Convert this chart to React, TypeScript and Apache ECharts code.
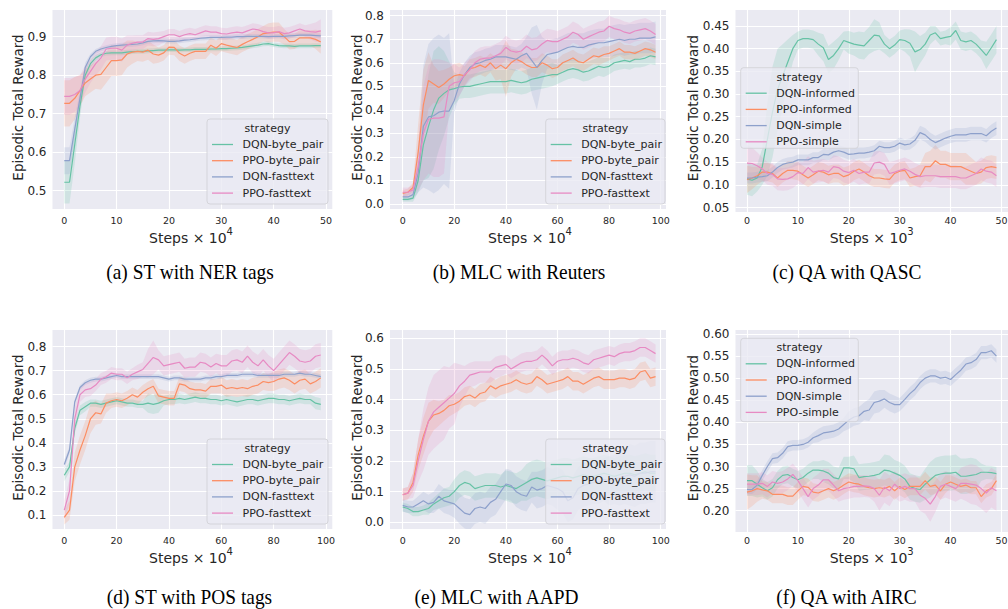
import React, { useEffect, useRef } from "react";
import * as echarts from "echarts";

// ---------- x positions ----------
const STEPS_50 = [
  0, 1, 2, 3, 4, 5, 6, 7, 8, 9, 10, 11, 12, 13, 14, 15, 16, 17, 18, 19,
  20, 21, 22, 23, 24, 25, 26, 27, 28, 29, 30, 31, 32, 33, 34, 35, 36, 37, 38, 39,
  40, 41, 42, 43, 44, 45, 46, 47, 48, 49,
];
const STEPS_100 = [
  0, 2, 4, 6, 8, 10, 12, 14, 16, 18, 20, 22, 24, 26, 28, 30, 32, 34, 36, 38,
  40, 42, 44, 46, 48, 50, 52, 54, 56, 58, 60, 62, 64, 66, 68, 70, 72, 74, 76, 78,
  80, 82, 84, 86, 88, 90, 92, 94, 96, 98,
];

// ---------- names / texts ----------
const NAMES_TXT = ["DQN-byte_pair", "PPO-byte_pair", "DQN-fasttext", "PPO-fasttext"];
const NAMES_QA = ["DQN-informed", "PPO-informed", "DQN-simple", "PPO-simple"];
const COLORS = ["#66c2a5", "#fc8d62", "#8da0cb", "#e78ac3"];
const BAND_COLORS = [
  "rgba(102,194,165,0.2)",
  "rgba(252,141,98,0.2)",
  "rgba(141,160,203,0.2)",
  "rgba(231,138,195,0.2)",
];
const CAPTIONS = [
  "(a) ST with NER tags",
  "(b) MLC with Reuters",
  "(c) QA with QASC",
  "(d) ST with POS tags",
  "(e) MLC with AAPD",
  "(f) QA with AIRC",
];
const X_POWERS = ["4", "4", "3", "4", "4", "3"];
const LEGEND_TITLE = "strategy";
const Y_TITLE = "Episodic Total Reward";
const X_TITLE = "Steps × 10";

// ---------- (a) ST with NER tags ----------
const A_DQN_BP = [
  0.522, 0.522, 0.62, 0.72, 0.8, 0.83, 0.845, 0.853, 0.857, 0.858,
  0.858, 0.858, 0.86, 0.861, 0.862, 0.862, 0.863, 0.864, 0.865, 0.865,
  0.866, 0.866, 0.865, 0.866, 0.866, 0.867, 0.867, 0.867, 0.868, 0.868,
  0.869, 0.869, 0.87, 0.871, 0.872, 0.874, 0.876, 0.878, 0.881, 0.882,
  0.879, 0.877, 0.876, 0.876, 0.875, 0.876, 0.876, 0.876, 0.877, 0.877,
];
const A_DQN_BP_S = [
  0.055, 0.055, 0.05, 0.03, 0.015, 0.01, 0.008, 0.006, 0.006, 0.006,
  0.006, 0.006, 0.006, 0.006, 0.006, 0.006, 0.006, 0.006, 0.006, 0.006,
  0.006, 0.006, 0.006, 0.006, 0.006, 0.006, 0.006, 0.006, 0.006, 0.006,
  0.006, 0.006, 0.006, 0.006, 0.006, 0.006, 0.006, 0.006, 0.006, 0.006,
  0.006, 0.006, 0.006, 0.006, 0.006, 0.006, 0.006, 0.006, 0.006, 0.006,
];
const A_PPO_BP = [
  0.727, 0.727, 0.74, 0.76, 0.78, 0.79, 0.8, 0.802, 0.82, 0.838,
  0.838, 0.84, 0.855, 0.86, 0.862, 0.86, 0.865, 0.855, 0.852, 0.858,
  0.873, 0.872, 0.857, 0.85, 0.857, 0.862, 0.862, 0.862, 0.878, 0.87,
  0.882, 0.878, 0.875, 0.872, 0.88, 0.887, 0.893, 0.9, 0.908, 0.91,
  0.912, 0.912, 0.9, 0.887, 0.888, 0.897, 0.897, 0.897, 0.893, 0.886,
];
const A_PPO_BP_S = [
  0.06, 0.06, 0.055, 0.04, 0.035, 0.035, 0.035, 0.04, 0.04, 0.04,
  0.04, 0.04, 0.035, 0.03, 0.025, 0.025, 0.025, 0.025, 0.02, 0.02,
  0.02, 0.02, 0.02, 0.02, 0.02, 0.02, 0.02, 0.02, 0.02, 0.02,
  0.02, 0.02, 0.02, 0.02, 0.02, 0.02, 0.02, 0.02, 0.02, 0.025,
  0.025, 0.025, 0.02, 0.02, 0.02, 0.02, 0.02, 0.02, 0.025, 0.03,
];
const A_DQN_FT = [
  0.578, 0.578, 0.66, 0.74, 0.82, 0.848, 0.862, 0.868, 0.872, 0.875,
  0.877, 0.878, 0.879, 0.88, 0.881, 0.884, 0.888, 0.889, 0.89, 0.889,
  0.888, 0.888, 0.889, 0.891, 0.892, 0.894, 0.896, 0.897, 0.898, 0.898,
  0.898, 0.899, 0.899, 0.9, 0.9, 0.901, 0.901, 0.901, 0.901, 0.9,
  0.901, 0.901, 0.901, 0.902, 0.903, 0.904, 0.904, 0.904, 0.903, 0.902,
];
const A_DQN_FT_S = [
  0.035, 0.035, 0.03, 0.02, 0.012, 0.008, 0.006, 0.006, 0.006, 0.006,
  0.006, 0.006, 0.006, 0.006, 0.006, 0.006, 0.006, 0.006, 0.006, 0.006,
  0.006, 0.006, 0.006, 0.006, 0.006, 0.006, 0.006, 0.006, 0.006, 0.006,
  0.006, 0.006, 0.006, 0.006, 0.006, 0.006, 0.006, 0.006, 0.006, 0.006,
  0.006, 0.006, 0.006, 0.006, 0.006, 0.006, 0.006, 0.006, 0.006, 0.006,
];
const A_PPO_FT = [
  0.745, 0.745, 0.75, 0.76, 0.79, 0.81, 0.83, 0.845, 0.868, 0.87,
  0.87, 0.865, 0.878, 0.883, 0.886, 0.886, 0.895, 0.893, 0.895, 0.9,
  0.905, 0.905, 0.9, 0.905, 0.908, 0.905, 0.91, 0.915, 0.912, 0.912,
  0.908, 0.907, 0.91, 0.912, 0.91, 0.915, 0.92, 0.918, 0.913, 0.91,
  0.91, 0.913, 0.908, 0.91, 0.915, 0.92, 0.915, 0.913, 0.912, 0.915,
];
const A_PPO_FT_S = [
  0.048, 0.048, 0.045, 0.04, 0.035, 0.03, 0.03, 0.03, 0.03, 0.03,
  0.03, 0.03, 0.025, 0.02, 0.018, 0.018, 0.018, 0.018, 0.018, 0.015,
  0.015, 0.015, 0.015, 0.015, 0.015, 0.015, 0.015, 0.015, 0.015, 0.015,
  0.015, 0.015, 0.015, 0.015, 0.015, 0.015, 0.015, 0.015, 0.015, 0.015,
  0.015, 0.015, 0.015, 0.015, 0.015, 0.015, 0.015, 0.02, 0.025, 0.03,
];

// ---------- (b) MLC with Reuters ----------
const B_DQN_BP = [
  0.02, 0.02, 0.025, 0.1, 0.25, 0.33, 0.4, 0.45, 0.47, 0.485,
  0.49, 0.497, 0.5, 0.5, 0.505, 0.51, 0.515, 0.52, 0.52, 0.52,
  0.52, 0.525, 0.52, 0.515, 0.52, 0.53, 0.535, 0.54, 0.545, 0.55,
  0.55, 0.56, 0.57, 0.575, 0.57, 0.56, 0.565, 0.575, 0.585, 0.58,
  0.585, 0.6, 0.605, 0.61, 0.605, 0.615, 0.615, 0.62, 0.63, 0.625,
];
const B_DQN_BP_S = [
  0.01, 0.01, 0.015, 0.05, 0.15, 0.22, 0.25, 0.22, 0.18, 0.12,
  0.07, 0.05, 0.05, 0.05, 0.05, 0.05, 0.05, 0.05, 0.05, 0.05,
  0.05, 0.05, 0.05, 0.05, 0.05, 0.05, 0.05, 0.05, 0.05, 0.05,
  0.04, 0.04, 0.04, 0.04, 0.04, 0.04, 0.04, 0.04, 0.04, 0.04,
  0.035, 0.035, 0.035, 0.035, 0.035, 0.035, 0.035, 0.035, 0.035, 0.035,
];
const B_PPO_BP = [
  0.045, 0.05, 0.07, 0.22, 0.42, 0.525, 0.51, 0.495, 0.51, 0.53,
  0.545, 0.55, 0.545, 0.575, 0.58, 0.59, 0.58, 0.6, 0.575, 0.59,
  0.575, 0.6, 0.615, 0.605, 0.59, 0.58, 0.58, 0.6, 0.59, 0.575,
  0.58, 0.6, 0.61, 0.62, 0.605, 0.6, 0.615, 0.63, 0.625, 0.635,
  0.64, 0.65, 0.66, 0.645, 0.645, 0.64, 0.65, 0.66, 0.655, 0.645,
];
const B_PPO_BP_S = [
  0.015, 0.015, 0.02, 0.12, 0.15, 0.12, 0.08, 0.07, 0.06, 0.05,
  0.05, 0.05, 0.04, 0.04, 0.04, 0.04, 0.04, 0.04, 0.05, 0.06,
  0.12, 0.06, 0.04, 0.04, 0.04, 0.04, 0.04, 0.04, 0.04, 0.04,
  0.035, 0.035, 0.035, 0.035, 0.035, 0.035, 0.035, 0.035, 0.035, 0.035,
  0.03, 0.03, 0.03, 0.03, 0.03, 0.03, 0.03, 0.03, 0.03, 0.03,
];
const B_DQN_FT = [
  0.03, 0.03, 0.04, 0.13, 0.33, 0.37, 0.375, 0.39, 0.395, 0.395,
  0.44, 0.51, 0.55, 0.58, 0.595, 0.6, 0.61, 0.615, 0.625, 0.625,
  0.625, 0.62, 0.615, 0.63, 0.64, 0.61, 0.58, 0.61, 0.635, 0.64,
  0.645, 0.655, 0.665, 0.67, 0.665, 0.665, 0.675, 0.68, 0.685, 0.685,
  0.69, 0.695, 0.7, 0.695, 0.7, 0.7, 0.705, 0.705, 0.705, 0.71,
];
const B_DQN_FT_S = [
  0.015, 0.015, 0.02, 0.08, 0.26, 0.31, 0.33, 0.33, 0.31, 0.33,
  0.05, 0.05, 0.05, 0.05, 0.05, 0.05, 0.05, 0.05, 0.05, 0.05,
  0.05, 0.05, 0.05, 0.05, 0.07, 0.14, 0.18, 0.1, 0.06, 0.06,
  0.06, 0.06, 0.06, 0.06, 0.06, 0.06, 0.06, 0.06, 0.06, 0.06,
  0.065, 0.065, 0.065, 0.065, 0.065, 0.065, 0.065, 0.065, 0.065, 0.065,
];
const B_PPO_FT = [
  0.05, 0.05, 0.06, 0.16, 0.3, 0.36, 0.365, 0.365, 0.37, 0.5,
  0.515, 0.52, 0.55, 0.57, 0.6, 0.615, 0.62, 0.62, 0.63, 0.64,
  0.665, 0.65, 0.645, 0.65, 0.67, 0.655, 0.66, 0.68, 0.695, 0.69,
  0.69, 0.7, 0.71, 0.73, 0.72, 0.7, 0.71, 0.72, 0.73, 0.735,
  0.755, 0.745, 0.74, 0.73, 0.725, 0.735, 0.74, 0.745, 0.735, 0.72,
];
const B_PPO_FT_S = [
  0.02, 0.02, 0.02, 0.1, 0.2, 0.23, 0.25, 0.25, 0.24, 0.1,
  0.08, 0.06, 0.05, 0.05, 0.05, 0.05, 0.05, 0.05, 0.05, 0.05,
  0.05, 0.05, 0.05, 0.05, 0.05, 0.05, 0.05, 0.05, 0.05, 0.05,
  0.045, 0.045, 0.045, 0.045, 0.045, 0.045, 0.045, 0.045, 0.045, 0.045,
  0.045, 0.045, 0.045, 0.045, 0.045, 0.045, 0.045, 0.045, 0.045, 0.045,
];

// ---------- (c) QA with QASC ----------
const C_DQN_INF = [
  0.113, 0.11, 0.115, 0.14, 0.2, 0.26, 0.31, 0.34, 0.37, 0.4,
  0.418, 0.422, 0.422, 0.42, 0.41, 0.402, 0.376, 0.385, 0.4, 0.418,
  0.414, 0.41, 0.408, 0.406, 0.418, 0.43, 0.428, 0.41, 0.4, 0.408,
  0.42, 0.418, 0.412, 0.393, 0.398, 0.41, 0.43, 0.435, 0.422, 0.425,
  0.427, 0.44, 0.418, 0.415, 0.418, 0.41, 0.398, 0.385, 0.402, 0.42,
];
const C_DQN_INF_S = [
  0.035, 0.035, 0.03, 0.04, 0.08, 0.1, 0.09, 0.07, 0.05, 0.03,
  0.02, 0.02, 0.02, 0.02, 0.025, 0.03, 0.03, 0.03, 0.025, 0.02,
  0.025, 0.025, 0.03, 0.03, 0.03, 0.035, 0.03, 0.02, 0.02, 0.02,
  0.02, 0.025, 0.03, 0.045, 0.03, 0.025, 0.02, 0.015, 0.015, 0.015,
  0.02, 0.02, 0.02, 0.02, 0.02, 0.02, 0.02, 0.03, 0.03, 0.03,
];
const C_PPO_INF = [
  0.112, 0.115, 0.12, 0.128, 0.128, 0.125, 0.115, 0.125, 0.132, 0.132,
  0.13, 0.122, 0.115, 0.122, 0.13, 0.128, 0.122, 0.125, 0.125, 0.118,
  0.122, 0.13, 0.135, 0.128, 0.12, 0.115, 0.115, 0.113, 0.112, 0.125,
  0.13, 0.132, 0.115, 0.118, 0.12, 0.14, 0.14, 0.153, 0.145, 0.145,
  0.14, 0.14, 0.14, 0.135, 0.13, 0.125, 0.128, 0.138, 0.14, 0.138,
];
const C_PPO_INF_S = [
  0.03, 0.025, 0.02, 0.02, 0.02, 0.02, 0.02, 0.02, 0.02, 0.02,
  0.02, 0.02, 0.02, 0.02, 0.02, 0.02, 0.02, 0.02, 0.02, 0.02,
  0.02, 0.02, 0.02, 0.02, 0.02, 0.02, 0.02, 0.02, 0.02, 0.02,
  0.02, 0.02, 0.02, 0.02, 0.025, 0.03, 0.035, 0.035, 0.03, 0.03,
  0.03, 0.03, 0.03, 0.035, 0.03, 0.025, 0.025, 0.025, 0.025, 0.025,
];
const C_DQN_SIM = [
  0.115, 0.115, 0.117, 0.118, 0.12, 0.128, 0.138, 0.145, 0.148, 0.15,
  0.155, 0.155, 0.155, 0.16, 0.16, 0.167, 0.166, 0.172, 0.175, 0.172,
  0.167, 0.168, 0.17, 0.17, 0.172, 0.175, 0.185, 0.182, 0.182, 0.185,
  0.192, 0.188, 0.19, 0.198, 0.215, 0.21, 0.2, 0.193, 0.198, 0.203,
  0.207, 0.21, 0.21, 0.21, 0.213, 0.213, 0.213, 0.208, 0.218, 0.225,
];
const C_DQN_SIM_S = [
  0.012, 0.012, 0.012, 0.012, 0.012, 0.012, 0.012, 0.012, 0.012, 0.012,
  0.012, 0.012, 0.012, 0.012, 0.012, 0.012, 0.012, 0.012, 0.012, 0.012,
  0.012, 0.012, 0.012, 0.012, 0.012, 0.012, 0.012, 0.012, 0.012, 0.012,
  0.012, 0.012, 0.012, 0.012, 0.015, 0.015, 0.015, 0.015, 0.015, 0.015,
  0.015, 0.015, 0.015, 0.015, 0.015, 0.015, 0.015, 0.015, 0.015, 0.015,
];
const C_PPO_SIM = [
  0.148, 0.147, 0.142, 0.135, 0.125, 0.123, 0.113, 0.112, 0.113, 0.118,
  0.127, 0.125, 0.138, 0.128, 0.13, 0.132, 0.128, 0.14, 0.138, 0.13,
  0.127, 0.132, 0.125, 0.128, 0.128, 0.148, 0.15, 0.145, 0.125, 0.128,
  0.132, 0.135, 0.13, 0.123, 0.118, 0.12, 0.12, 0.12, 0.118, 0.118,
  0.118, 0.118, 0.115, 0.115, 0.12, 0.125, 0.135, 0.13, 0.128, 0.12,
];
const C_PPO_SIM_S = [
  0.04, 0.035, 0.03, 0.025, 0.025, 0.025, 0.025, 0.025, 0.025, 0.025,
  0.025, 0.025, 0.025, 0.025, 0.025, 0.025, 0.025, 0.025, 0.025, 0.025,
  0.025, 0.025, 0.025, 0.025, 0.025, 0.025, 0.025, 0.025, 0.025, 0.025,
  0.025, 0.025, 0.025, 0.025, 0.025, 0.025, 0.025, 0.025, 0.025, 0.025,
  0.025, 0.025, 0.025, 0.025, 0.025, 0.025, 0.025, 0.025, 0.025, 0.025,
];

// ---------- (d) ST with POS tags ----------
const D_DQN_BP = [
  0.265, 0.3, 0.46, 0.535, 0.55, 0.565, 0.565, 0.56, 0.565, 0.57,
  0.575, 0.57, 0.565, 0.565, 0.56, 0.56, 0.565, 0.56, 0.565, 0.575,
  0.58, 0.58, 0.585, 0.58, 0.585, 0.59, 0.585, 0.585, 0.58, 0.58,
  0.575, 0.58, 0.575, 0.57, 0.575, 0.58, 0.58, 0.575, 0.58, 0.585,
  0.585, 0.58, 0.58, 0.575, 0.58, 0.585, 0.58, 0.58, 0.565, 0.56,
];
const D_DQN_BP_S = [
  0.025, 0.02, 0.02, 0.02, 0.02, 0.015, 0.015, 0.015, 0.015, 0.015,
  0.015, 0.015, 0.015, 0.015, 0.015, 0.015, 0.04, 0.04, 0.04, 0.02,
  0.02, 0.02, 0.02, 0.02, 0.02, 0.02, 0.02, 0.02, 0.02, 0.02,
  0.02, 0.02, 0.02, 0.02, 0.02, 0.02, 0.02, 0.02, 0.02, 0.02,
  0.02, 0.02, 0.02, 0.02, 0.02, 0.02, 0.02, 0.02, 0.025, 0.025,
];
const D_PPO_BP = [
  0.09, 0.12, 0.3, 0.37, 0.43, 0.5, 0.525, 0.52, 0.565, 0.575,
  0.58, 0.575, 0.585, 0.6, 0.59, 0.61, 0.625, 0.635, 0.595, 0.59,
  0.585, 0.585, 0.645, 0.64, 0.625, 0.62, 0.62, 0.615, 0.635, 0.635,
  0.64, 0.625, 0.63, 0.625, 0.63, 0.625, 0.635, 0.64, 0.655, 0.65,
  0.655, 0.665, 0.67, 0.66, 0.645, 0.66, 0.665, 0.645, 0.655, 0.67,
];
const D_PPO_BP_S = [
  0.03, 0.04, 0.06, 0.06, 0.06, 0.06, 0.05, 0.04, 0.04, 0.03,
  0.03, 0.03, 0.03, 0.03, 0.03, 0.03, 0.03, 0.03, 0.03, 0.03,
  0.03, 0.03, 0.03, 0.03, 0.03, 0.03, 0.03, 0.03, 0.03, 0.03,
  0.035, 0.035, 0.035, 0.035, 0.035, 0.035, 0.035, 0.035, 0.035, 0.035,
  0.04, 0.04, 0.04, 0.04, 0.04, 0.04, 0.04, 0.04, 0.04, 0.04,
];
const D_DQN_FT = [
  0.31, 0.37, 0.57, 0.63, 0.65, 0.66, 0.665, 0.665, 0.67, 0.675,
  0.68, 0.675, 0.675, 0.675, 0.675, 0.675, 0.675, 0.675, 0.675, 0.67,
  0.665, 0.67, 0.67, 0.665, 0.665, 0.665, 0.665, 0.67, 0.67, 0.675,
  0.675, 0.68, 0.68, 0.68, 0.685, 0.685, 0.685, 0.68, 0.68, 0.68,
  0.68, 0.68, 0.685, 0.685, 0.685, 0.69, 0.685, 0.685, 0.68, 0.675,
];
const D_DQN_FT_S = [
  0.02, 0.015, 0.01, 0.01, 0.01, 0.01, 0.01, 0.01, 0.01, 0.01,
  0.01, 0.01, 0.01, 0.01, 0.01, 0.01, 0.01, 0.01, 0.01, 0.01,
  0.01, 0.01, 0.01, 0.01, 0.01, 0.01, 0.01, 0.01, 0.01, 0.01,
  0.01, 0.01, 0.01, 0.01, 0.01, 0.01, 0.01, 0.01, 0.01, 0.01,
  0.01, 0.01, 0.01, 0.01, 0.01, 0.01, 0.01, 0.01, 0.01, 0.01,
];
const D_PPO_FT = [
  0.12, 0.2, 0.5, 0.6, 0.62, 0.625, 0.64, 0.665, 0.675, 0.69,
  0.685, 0.685, 0.67, 0.685, 0.695, 0.705, 0.73, 0.755, 0.745, 0.72,
  0.725, 0.73, 0.735, 0.71, 0.715, 0.715, 0.735, 0.73, 0.715, 0.73,
  0.72, 0.72, 0.74, 0.745, 0.735, 0.76, 0.735, 0.72, 0.745, 0.72,
  0.7, 0.725, 0.75, 0.775, 0.76, 0.74, 0.735, 0.74, 0.76, 0.765,
];
const D_PPO_FT_S = [
  0.04, 0.05, 0.05, 0.03, 0.03, 0.03, 0.025, 0.025, 0.025, 0.025,
  0.025, 0.025, 0.025, 0.025, 0.03, 0.03, 0.06, 0.07, 0.04, 0.04,
  0.04, 0.04, 0.04, 0.04, 0.04, 0.04, 0.04, 0.04, 0.04, 0.04,
  0.045, 0.045, 0.045, 0.045, 0.045, 0.045, 0.045, 0.045, 0.045, 0.045,
  0.05, 0.05, 0.05, 0.05, 0.05, 0.05, 0.05, 0.05, 0.05, 0.05,
];

// ---------- (e) MLC with AAPD ----------
const E_DQN_BP = [
  0.05, 0.045, 0.035, 0.035, 0.04, 0.045, 0.06, 0.07, 0.08, 0.085,
  0.1, 0.12, 0.13, 0.125, 0.11, 0.115, 0.12, 0.12, 0.12, 0.115,
  0.12, 0.115, 0.11, 0.12, 0.13, 0.14, 0.145, 0.14, 0.135, 0.14,
  0.145, 0.15, 0.15, 0.145, 0.15, 0.155, 0.15, 0.15, 0.155, 0.16,
  0.155, 0.15, 0.155, 0.16, 0.16, 0.155, 0.16, 0.165, 0.16, 0.16,
];
const E_DQN_BP_S = [
  0.015, 0.015, 0.015, 0.015, 0.015, 0.02, 0.02, 0.025, 0.03, 0.03,
  0.04, 0.04, 0.04, 0.04, 0.04, 0.04, 0.04, 0.04, 0.04, 0.04,
  0.05, 0.05, 0.05, 0.05, 0.06, 0.06, 0.06, 0.06, 0.06, 0.06,
  0.06, 0.06, 0.06, 0.06, 0.06, 0.06, 0.06, 0.06, 0.06, 0.06,
  0.06, 0.06, 0.06, 0.06, 0.06, 0.06, 0.06, 0.06, 0.06, 0.06,
];
const E_PPO_BP = [
  0.09, 0.095, 0.13, 0.22, 0.28, 0.33, 0.35, 0.355, 0.365, 0.38,
  0.385, 0.395, 0.41, 0.415, 0.405, 0.42, 0.425, 0.445, 0.435, 0.445,
  0.45, 0.455, 0.465, 0.455, 0.45, 0.455, 0.475, 0.465, 0.45, 0.455,
  0.46, 0.465, 0.475, 0.46, 0.46, 0.45, 0.46, 0.47, 0.475, 0.465,
  0.465, 0.465, 0.47, 0.47, 0.465, 0.47, 0.49, 0.495, 0.47, 0.475,
];
const E_PPO_BP_S = [
  0.02, 0.02, 0.03, 0.05, 0.06, 0.06, 0.05, 0.04, 0.035, 0.035,
  0.03, 0.03, 0.03, 0.03, 0.03, 0.03, 0.03, 0.03, 0.03, 0.03,
  0.03, 0.03, 0.03, 0.03, 0.03, 0.03, 0.03, 0.03, 0.03, 0.03,
  0.03, 0.03, 0.03, 0.03, 0.03, 0.03, 0.03, 0.03, 0.03, 0.03,
  0.03, 0.03, 0.03, 0.03, 0.03, 0.03, 0.03, 0.03, 0.03, 0.03,
];
const E_DQN_FT = [
  0.055, 0.05, 0.05, 0.06, 0.07, 0.06, 0.065, 0.085, 0.07, 0.065,
  0.06, 0.045, 0.03, 0.025, 0.045, 0.05, 0.045, 0.065, 0.075, 0.1,
  0.125, 0.12, 0.1, 0.09, 0.085, 0.115, 0.105, 0.11, 0.12, 0.115,
  0.11, 0.1, 0.07, 0.08, 0.11, 0.12, 0.125, 0.13, 0.13, 0.14,
  0.135, 0.14, 0.145, 0.15, 0.155, 0.15, 0.16, 0.16, 0.165, 0.165,
];
const E_DQN_FT_S = [
  0.02, 0.02, 0.02, 0.025, 0.03, 0.03, 0.035, 0.04, 0.04, 0.04,
  0.045, 0.05, 0.05, 0.05, 0.05, 0.05, 0.05, 0.05, 0.05, 0.05,
  0.05, 0.05, 0.05, 0.05, 0.05, 0.05, 0.06, 0.06, 0.06, 0.06,
  0.07, 0.07, 0.07, 0.07, 0.07, 0.07, 0.07, 0.07, 0.07, 0.07,
  0.08, 0.08, 0.09, 0.09, 0.1, 0.1, 0.1, 0.1, 0.1, 0.1,
];
const E_PPO_FT = [
  0.09, 0.095, 0.12, 0.2, 0.27, 0.33, 0.36, 0.375, 0.39, 0.405,
  0.42, 0.445, 0.46, 0.48, 0.485, 0.49, 0.49, 0.49, 0.505, 0.51,
  0.515, 0.5, 0.51, 0.52, 0.525, 0.525, 0.53, 0.545, 0.53, 0.51,
  0.525, 0.53, 0.53, 0.535, 0.53, 0.52, 0.515, 0.53, 0.535, 0.54,
  0.545, 0.54, 0.55, 0.555, 0.555, 0.56, 0.57, 0.57, 0.56, 0.55,
];
const E_PPO_FT_S = [
  0.02, 0.02, 0.04, 0.07, 0.1, 0.11, 0.12, 0.12, 0.12, 0.1,
  0.1, 0.07, 0.05, 0.04, 0.04, 0.035, 0.035, 0.035, 0.035, 0.035,
  0.03, 0.03, 0.03, 0.03, 0.03, 0.03, 0.03, 0.03, 0.03, 0.03,
  0.03, 0.03, 0.03, 0.03, 0.03, 0.03, 0.03, 0.03, 0.03, 0.03,
  0.03, 0.03, 0.03, 0.03, 0.03, 0.03, 0.03, 0.03, 0.03, 0.03,
];

// ---------- (f) QA with AIRC ----------
const F_DQN_INF = [
  0.268, 0.268, 0.26, 0.252, 0.245, 0.252, 0.27, 0.28, 0.282, 0.275,
  0.27, 0.275, 0.285, 0.292, 0.292, 0.29, 0.285, 0.275, 0.272, 0.297,
  0.297, 0.295, 0.275, 0.277, 0.278, 0.28, 0.283, 0.292, 0.29, 0.285,
  0.28, 0.272, 0.255, 0.25, 0.248, 0.26, 0.27, 0.28, 0.283, 0.285,
  0.285, 0.287, 0.278, 0.278, 0.28, 0.282, 0.287, 0.287, 0.286, 0.284,
];
const F_DQN_INF_S = [
  0.035, 0.035, 0.03, 0.02, 0.02, 0.02, 0.02, 0.02, 0.02, 0.02,
  0.02, 0.02, 0.02, 0.02, 0.02, 0.025, 0.025, 0.025, 0.025, 0.025,
  0.025, 0.03, 0.03, 0.03, 0.03, 0.03, 0.03, 0.035, 0.035, 0.03,
  0.03, 0.03, 0.03, 0.03, 0.03, 0.035, 0.04, 0.04, 0.04, 0.04,
  0.04, 0.04, 0.04, 0.04, 0.04, 0.035, 0.02, 0.015, 0.015, 0.015,
];
const F_PPO_INF = [
  0.242, 0.245, 0.25, 0.247, 0.245, 0.237, 0.237, 0.237, 0.233, 0.233,
  0.245, 0.255, 0.253, 0.242, 0.24, 0.245, 0.25, 0.245, 0.25, 0.258,
  0.265, 0.262, 0.26, 0.255, 0.252, 0.25, 0.252, 0.25, 0.255, 0.245,
  0.255, 0.248, 0.255, 0.255, 0.255, 0.268, 0.255, 0.258, 0.245, 0.26,
  0.265, 0.26, 0.255, 0.258, 0.252, 0.252, 0.232, 0.245, 0.25, 0.268,
];
const F_PPO_INF_S = [
  0.04, 0.035, 0.03, 0.02, 0.02, 0.02, 0.02, 0.02, 0.02, 0.02,
  0.02, 0.02, 0.02, 0.02, 0.02, 0.02, 0.02, 0.02, 0.02, 0.02,
  0.02, 0.02, 0.02, 0.02, 0.02, 0.02, 0.02, 0.02, 0.02, 0.02,
  0.02, 0.02, 0.02, 0.02, 0.02, 0.02, 0.02, 0.02, 0.02, 0.02,
  0.015, 0.015, 0.015, 0.015, 0.015, 0.015, 0.015, 0.015, 0.015, 0.015,
];
const F_DQN_SIM = [
  0.248, 0.248, 0.258, 0.28, 0.3, 0.318, 0.32, 0.33, 0.345, 0.348,
  0.348, 0.35, 0.355, 0.365, 0.37, 0.376, 0.378, 0.38, 0.385, 0.395,
  0.405, 0.412, 0.415, 0.425, 0.428, 0.445, 0.448, 0.453, 0.445, 0.44,
  0.44, 0.452, 0.465, 0.475, 0.49, 0.5, 0.505, 0.505, 0.5, 0.502,
  0.497, 0.508, 0.518, 0.532, 0.535, 0.542, 0.558, 0.558, 0.562, 0.55,
];
const F_DQN_SIM_S = [
  0.01, 0.01, 0.01, 0.012, 0.012, 0.012, 0.012, 0.012, 0.012, 0.012,
  0.012, 0.012, 0.012, 0.012, 0.015, 0.015, 0.015, 0.015, 0.015, 0.015,
  0.02, 0.02, 0.02, 0.02, 0.025, 0.025, 0.025, 0.02, 0.02, 0.02,
  0.015, 0.015, 0.015, 0.015, 0.015, 0.015, 0.015, 0.015, 0.015, 0.015,
  0.015, 0.015, 0.015, 0.015, 0.015, 0.015, 0.015, 0.015, 0.015, 0.015,
];
const F_PPO_SIM = [
  0.26, 0.26, 0.26, 0.262, 0.255, 0.265, 0.262, 0.265, 0.272, 0.282,
  0.268, 0.25, 0.232, 0.25, 0.258, 0.27, 0.27, 0.258, 0.245, 0.25,
  0.252, 0.255, 0.255, 0.256, 0.255, 0.25, 0.235, 0.253, 0.245, 0.26,
  0.25, 0.255, 0.25, 0.25, 0.235, 0.228, 0.215, 0.232, 0.255, 0.26,
  0.255, 0.25, 0.262, 0.262, 0.26, 0.258, 0.25, 0.24, 0.252, 0.245,
];
const F_PPO_SIM_S = [
  0.025, 0.025, 0.025, 0.025, 0.025, 0.025, 0.025, 0.025, 0.025, 0.025,
  0.025, 0.025, 0.025, 0.025, 0.025, 0.025, 0.025, 0.025, 0.025, 0.025,
  0.025, 0.025, 0.025, 0.025, 0.025, 0.03, 0.035, 0.035, 0.035, 0.03,
  0.03, 0.03, 0.03, 0.03, 0.035, 0.035, 0.04, 0.035, 0.03, 0.03,
  0.03, 0.03, 0.035, 0.04, 0.045, 0.045, 0.045, 0.045, 0.045, 0.045,
];

// ---------- panel assembly (layout in px) ----------
type Panel = {
  steps: number[];
  names: string[];
  means: number[][];
  spreads: number[][];
  grid: { left: number; top: number; width: number; height: number };
  x: [number, number, number];
  y: [number, number, number, number];
  xLabelMargin: number;
  legend: { x: number; y: number; w: number; h: number };
  yTitle: [number, number];
  xTitle: [number, number];
  caption: [number, number];
};

const PANELS: Panel[] = [
  {
    steps: STEPS_50, names: NAMES_TXT,
    means: [A_DQN_BP, A_PPO_BP, A_DQN_FT, A_PPO_FT],
    spreads: [A_DQN_BP_S, A_PPO_BP_S, A_DQN_FT_S, A_PPO_FT_S],
    grid: { left: 52.5, top: 10, width: 279.8, height: 199 },
    x: [-2.25, 51.2, 10], y: [0.4525, 0.9693, 0.1, 1], xLabelMargin: 6,
    legend: { x: 207, y: 119, w: 121, h: 85 },
    yTitle: [18, 107.5], xTitle: [191, 235.7], caption: [190, 272],
  },
  {
    steps: STEPS_100, names: NAMES_TXT,
    means: [B_DQN_BP, B_PPO_BP, B_DQN_FT, B_PPO_FT],
    spreads: [B_DQN_BP_S, B_PPO_BP_S, B_DQN_FT_S, B_PPO_FT_S],
    grid: { left: 390, top: 10, width: 276, height: 199 },
    x: [-4.92, 102.05, 20], y: [-0.0212, 0.8242, 0.1, 1], xLabelMargin: 6,
    legend: { x: 545.7, y: 119, w: 119.3, h: 85 },
    yTitle: [356.7, 107.5], xTitle: [530, 235.7], caption: [519, 272],
  },
  {
    steps: STEPS_50, names: NAMES_QA,
    means: [C_DQN_INF, C_PPO_INF, C_DQN_SIM, C_PPO_SIM],
    spreads: [C_DQN_INF_S, C_PPO_INF_S, C_DQN_SIM_S, C_PPO_SIM_S],
    grid: { left: 735.5, top: 10, width: 272.9, height: 202 },
    x: [-2.26, 51.35, 10], y: [0.0401, 0.4852, 0.05, 2], xLabelMargin: 3,
    legend: { x: 740.7, y: 67.7, w: 117.6, h: 80.6 },
    yTitle: [693, 108], xTitle: [871.7, 235.7], caption: [847, 272],
  },
  {
    steps: STEPS_100, names: NAMES_TXT,
    means: [D_DQN_BP, D_PPO_BP, D_DQN_FT, D_PPO_FT],
    spreads: [D_DQN_BP_S, D_PPO_BP_S, D_DQN_FT_S, D_PPO_FT_S],
    grid: { left: 52.5, top: 330, width: 279.8, height: 199 },
    x: [-4.5, 102.4, 20], y: [0.0418, 0.869, 0.1, 1], xLabelMargin: 6,
    legend: { x: 207, y: 439, w: 121, h: 85 },
    yTitle: [18, 427.5], xTitle: [191, 555.7], caption: [189.5, 597],
  },
  {
    steps: STEPS_100, names: NAMES_TXT,
    means: [E_DQN_BP, E_PPO_BP, E_DQN_FT, E_PPO_FT],
    spreads: [E_DQN_BP_S, E_PPO_BP_S, E_DQN_FT_S, E_PPO_FT_S],
    grid: { left: 390, top: 330, width: 276, height: 199 },
    x: [-4.92, 102.05, 20], y: [-0.0218, 0.627, 0.1, 1], xLabelMargin: 6,
    legend: { x: 545.7, y: 439, w: 119.3, h: 85 },
    yTitle: [356.7, 427.5], xTitle: [530, 555.7], caption: [496.5, 597],
  },
  {
    steps: STEPS_50, names: NAMES_QA,
    means: [F_DQN_INF, F_PPO_INF, F_DQN_SIM, F_PPO_SIM],
    spreads: [F_DQN_INF_S, F_PPO_INF_S, F_DQN_SIM_S, F_PPO_SIM_S],
    grid: { left: 735.5, top: 330, width: 272.9, height: 202 },
    x: [-2.26, 51.35, 10], y: [0.1518, 0.609, 0.05, 2], xLabelMargin: 3,
    legend: { x: 740.7, y: 338.3, w: 117.6, h: 83.4 },
    yTitle: [693, 428], xTitle: [871.7, 555.7], caption: [846.5, 597],
  },
];

const FONT = "DejaVu Sans";
const TEXT_COLOR = "#262626";

const tickFormatter = (step: number, dec: number) => (v: number) => {
  const k = v / step;
  if (Math.abs(k - Math.round(k)) > 1e-6) return "";
  return (Math.round(k) * step).toFixed(dec);
};

function buildOption() {
  const grid: any[] = [];
  const xAxis: any[] = [];
  const yAxis: any[] = [];
  const series: any[] = [];
  const graphic: any[] = [];

  PANELS.forEach((p, pi) => {
    grid.push({
      ...p.grid,
      show: true,
      backgroundColor: "#EAEAF2",
      borderWidth: 0,
      containLabel: false,
      outerBoundsMode: "none",
    });
    const splitLine = {
      show: true,
      showMinLine: false,
      showMaxLine: false,
      lineStyle: { color: "#ffffff", width: 1.1 },
    };
    xAxis.push({
      type: "value",
      gridIndex: pi,
      min: p.x[0],
      max: p.x[1],
      minInterval: p.x[2],
      maxInterval: p.x[2],
      axisLine: { show: false },
      axisTick: { show: false },
      splitLine,
      axisLabel: {
        color: TEXT_COLOR,
        fontFamily: FONT,
        fontSize: 9.5,
        margin: p.xLabelMargin,
        formatter: tickFormatter(p.x[2], 0),
      },
    });
    yAxis.push({
      type: "value",
      gridIndex: pi,
      min: p.y[0],
      max: p.y[1],
      minInterval: p.y[2],
      maxInterval: p.y[2],
      axisLine: { show: false },
      axisTick: { show: false },
      splitLine,
      axisLabel: {
        color: TEXT_COLOR,
        fontFamily: FONT,
        fontSize: 12,
        margin: 6,
        formatter: tickFormatter(p.y[2], p.y[3]),
      },
    });

    p.names.forEach((name, si) => {
      const mean = p.means[si];
      const spread = p.spreads[si];
      const steps = p.steps;
      series.push({
        type: "custom",
        name: name + " band",
        xAxisIndex: pi,
        yAxisIndex: pi,
        silent: true,
        clip: true,
        z: 1,
        data: [[steps[0], mean[0]]],
        renderItem: (_params: any, api: any) => {
          const upper = steps.map((xv, k) => api.coord([xv, mean[k] + spread[k]]));
          const lower = steps.map((xv, k) => api.coord([xv, mean[k] - spread[k]])).reverse();
          return {
            type: "polygon",
            shape: { points: upper.concat(lower) },
            style: { fill: BAND_COLORS[si] },
            silent: true,
          };
        },
      });
      series.push({
        type: "line",
        name,
        xAxisIndex: pi,
        yAxisIndex: pi,
        silent: true,
        symbol: "none",
        showSymbol: false,
        z: 2,
        data: steps.map((xv, k) => [xv, mean[k]]),
        lineStyle: { color: COLORS[si], width: 1.2 },
        itemStyle: { color: COLORS[si] },
      });
    });

    // legend drawn as graphics
    const L = p.legend;
    graphic.push({
      type: "rect",
      z: 100,
      silent: true,
      shape: { x: L.x, y: L.y, width: L.w, height: L.h, r: 3 },
      style: { fill: "rgba(234,234,242,0.8)", stroke: "#cfcfd4", lineWidth: 0.8 },
    });
    graphic.push({
      type: "text",
      z: 101,
      silent: true,
      x: L.x + L.w / 2,
      y: L.y + 9.5,
      style: {
        text: LEGEND_TITLE,
        fill: TEXT_COLOR,
        fontFamily: FONT,
        fontSize: 11,
        align: "center",
        verticalAlign: "middle",
      },
    });
    p.names.forEach((name, si) => {
      const yy = L.y + 25.5 + 16.2 * si;
      graphic.push({
        type: "line",
        z: 101,
        silent: true,
        shape: { x1: L.x + 5, y1: yy, x2: L.x + 26, y2: yy },
        style: { stroke: COLORS[si], lineWidth: 1.3 },
      });
      graphic.push({
        type: "text",
        z: 101,
        silent: true,
        x: L.x + 35.5,
        y: yy,
        style: {
          text: name,
          fill: TEXT_COLOR,
          fontFamily: FONT,
          fontSize: 11,
          align: "left",
          verticalAlign: "middle",
        },
      });
    });

    // axis titles
    graphic.push({
      type: "text",
      z: 101,
      silent: true,
      x: p.yTitle[0],
      y: p.yTitle[1],
      rotation: Math.PI / 2,
      style: {
        text: Y_TITLE,
        fill: TEXT_COLOR,
        fontFamily: FONT,
        fontSize: 13.5,
        align: "center",
        verticalAlign: "middle",
      },
    });
    graphic.push({
      type: "text",
      z: 101,
      silent: true,
      x: p.xTitle[0],
      y: p.xTitle[1],
      style: {
        text: "{a|" + X_TITLE + "}{b|" + X_POWERS[pi] + "}",
        fill: TEXT_COLOR,
        fontFamily: FONT,
        align: "center",
        verticalAlign: "middle",
        rich: {
          a: { fontSize: 14, fontFamily: FONT, fill: TEXT_COLOR, lineHeight: 18, verticalAlign: "bottom" },
          b: { fontSize: 10, fontFamily: FONT, fill: TEXT_COLOR, lineHeight: 9, verticalAlign: "top" },
        },
      },
    });
    // caption (condensed serif look)
    graphic.push({
      type: "text",
      z: 101,
      silent: true,
      x: p.caption[0],
      y: p.caption[1],
      scaleX: 0.88,
      style: {
        text: CAPTIONS[pi],
        fill: "#000000",
        fontFamily: "Liberation Serif",
        fontSize: 22,
        align: "center",
        verticalAlign: "middle",
      },
    });
  });

  return {
    animation: false,
    backgroundColor: "#ffffff",
    grid,
    xAxis,
    yAxis,
    series,
    graphic: { elements: graphic },
  };
}

export default function App() {
  const ref = useRef<HTMLDivElement>(null);
  useEffect(() => {
    document.body.style.margin = "0";
    if (!ref.current) return;
    const chart = echarts.init(ref.current, undefined, { renderer: "svg" });
    chart.setOption(buildOption() as any);
    return () => chart.dispose();
  }, []);
  return <div ref={ref} style={{ width: 1008, height: 609 }} />;
}
